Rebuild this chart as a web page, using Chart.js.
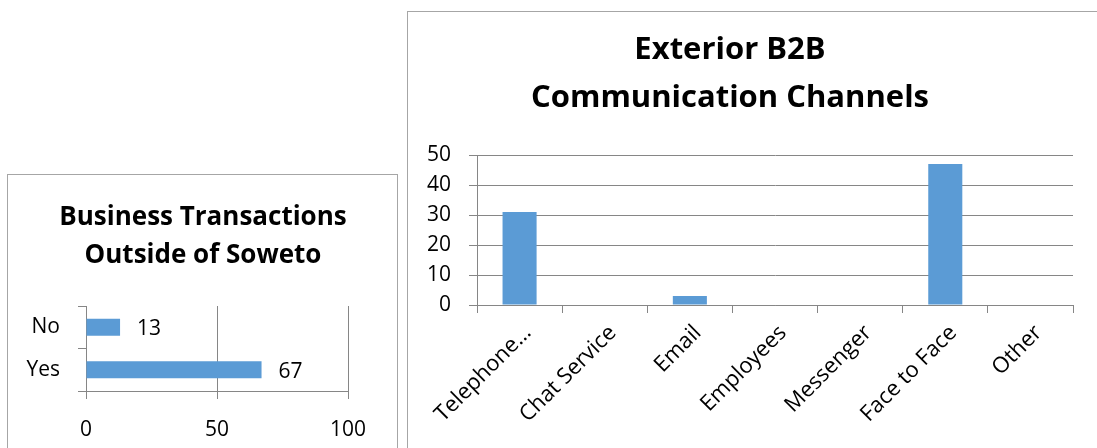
<!DOCTYPE html>
<html>
<head>
<meta charset="utf-8">
<script src="https://cdn.jsdelivr.net/npm/chart.js@4.4.1/dist/chart.umd.min.js"></script>
<style>
  body { margin: 0; width: 1097px; height: 448px; background: #fff; overflow: hidden; position: relative; }
  .panel { position: absolute; border: 1px solid #a6a6a6; border-bottom: none; background: #fff; }
  canvas { position: absolute; }
</style>
</head>
<body>
<div class="panel" style="left:7px; top:174px; width:389px; height:300px;"></div>
<div class="panel" style="left:407px; top:11px; width:720px; height:460px;"></div>
<canvas id="transactionsChart" width="388" height="272" style="left:9px; top:176px;"></canvas>
<canvas id="channelsChart" width="689" height="436" style="left:408px; top:12px;"></canvas>
<script>
const transactionLabels = ['No', 'Yes']
const transactionValues = [13, 67]
const transactionTicks = [0, 50, 100]

const channelLabels = ['Telephone…', 'Chat Service', 'Email', 'Employees', 'Messenger', 'Face to Face', 'Other']
const channelValues = [31, 0, 3, 0, 0, 47, 0]
const channelTicks = [0, 10, 20, 30, 40, 50]

const FONT = "'Open Sans'"
const BAR_BLUE = '#5b9bd5'
const LINE_GREY = '#868686'
const tickFont = { family: FONT, size: 21 }

// two-line bold heading, drawn at a fixed spot on the canvas
const makeTitle = (lines, x, y, gap, size) => ({
  id: 'panelTitle',
  afterDraw(chart) {
    const { ctx } = chart
    ctx.save()
    ctx.font = `bold ${size}px ${FONT}`
    ctx.fillStyle = '#000'
    ctx.textAlign = 'center'
    ctx.textBaseline = 'alphabetic'
    lines.forEach((line, i) => ctx.fillText(line, x, y + i * gap))
    ctx.restore()
  }
})

// value printed just past the end of each horizontal bar
const barValueLabels = {
  id: 'barValueLabels',
  afterDatasetsDraw(chart) {
    const { ctx } = chart
    const values = chart.data.datasets[0].data
    ctx.save()
    ctx.font = `21px ${FONT}`
    ctx.fillStyle = '#000'
    ctx.textAlign = 'left'
    ctx.textBaseline = 'middle'
    chart.getDatasetMeta(0).data.forEach((bar, i) => {
      ctx.fillText(String(values[i]), bar.x + 17, bar.y + 2)
    })
    ctx.restore()
  }
}

const fixedTicks = (list) => (scale) => {
  scale.ticks = list.map(v => ({ value: v }))
}

new Chart(document.getElementById('transactionsChart'), {
  type: 'bar',
  data: {
    labels: transactionLabels,
    datasets: [{
      data: transactionValues,
      backgroundColor: BAR_BLUE,
      barPercentage: 0.4,
      categoryPercentage: 1
    }]
  },
  options: {
    indexAxis: 'y',
    responsive: false,
    animation: false,
    layout: { padding: { top: 130, right: 49, left: 0, bottom: 0 } },
    plugins: { legend: { display: false }, tooltip: { enabled: false } },
    scales: {
      x: {
        min: 0,
        max: 100,
        afterBuildTicks: fixedTicks(transactionTicks),
        afterFit: (s) => { s.height = 57 },
        grid: { color: LINE_GREY, tickLength: 8 },
        border: { color: LINE_GREY },
        ticks: { font: tickFont, color: '#000', padding: 18 }
      },
      y: {
        afterFit: (s) => { s.width = 77 },
        grid: { offset: true, drawOnChartArea: false, color: LINE_GREY, tickLength: 8 },
        border: { color: LINE_GREY },
        ticks: { font: tickFont, color: '#000', padding: 18 }
      }
    }
  },
  plugins: [makeTitle(['Business Transactions', 'Outside of Soweto'], 194, 49, 38, 26), barValueLabels]
})

new Chart(document.getElementById('channelsChart'), {
  type: 'bar',
  data: {
    labels: channelLabels,
    datasets: [{
      data: channelValues,
      backgroundColor: BAR_BLUE,
      barPercentage: 0.4,
      categoryPercentage: 1
    }]
  },
  options: {
    responsive: false,
    animation: false,
    layout: { padding: { top: 143, right: 24, left: 0, bottom: 0 } },
    plugins: { legend: { display: false }, tooltip: { enabled: false } },
    scales: {
      x: {
        afterFit: (s) => { s.height = 143 },
        grid: { offset: true, drawOnChartArea: false, color: LINE_GREY, tickLength: 8 },
        border: { color: LINE_GREY },
        ticks: { font: { family: FONT, size: 22 }, color: '#000', minRotation: 45, maxRotation: 45, autoSkip: false, padding: 7, labelOffset: 8 }
      },
      y: {
        min: 0,
        max: 50,
        afterBuildTicks: fixedTicks(channelTicks),
        afterFit: (s) => { s.width = 69 },
        grid: { color: LINE_GREY, tickLength: 8 },
        border: { color: LINE_GREY },
        ticks: { font: tickFont, color: '#000', padding: 18 }
      }
    }
  },
  plugins: [makeTitle(['Exterior B2B', 'Communication Channels'], 322, 47, 48, 31)]
})
</script>
</body>
</html>
